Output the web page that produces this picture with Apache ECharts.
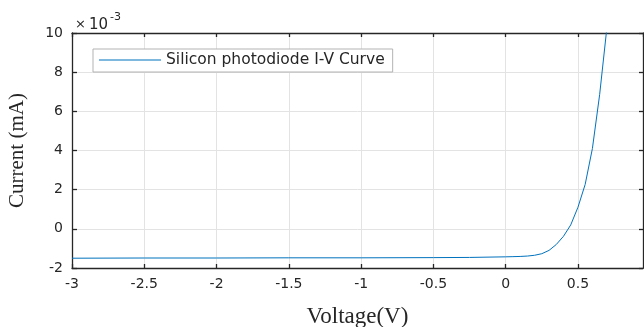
<!DOCTYPE html>
<html>
<head>
<meta charset="utf-8">
<script src="https://cdn.jsdelivr.net/npm/echarts@6/dist/echarts.min.js"></script>
<style>
html,body{margin:0;padding:0;background:#fff;}
#chart{width:644px;height:327px;}
</style>
</head>
<body>
<div id="chart"></div>
<script>
// Data (current in units of 1e-3 mA, as shown on the axis)
var voltage = [-3, -2.5, -2, -1.5, -1, -0.5, -0.25, 0, 0.05, 0.1, 0.15, 0.2, 0.25, 0.3, 0.35, 0.4, 0.45, 0.5, 0.55, 0.6, 0.65, 0.7];
var current = [-1.50, -1.49, -1.49, -1.48, -1.48, -1.47, -1.46, -1.43, -1.42, -1.41, -1.39, -1.35, -1.27, -1.10, -0.80, -0.38, 0.20, 1.10, 2.27, 4.10, 6.85, 10.25];
var seriesName = 'Silicon photodiode I-V Curve';
var xTitle = 'Voltage(V)';
var yTitle = 'Current (mA)';
var xMin = -3, xMax = 0.95, xStep = 0.5;
var yMin = -2, yMax = 10, yStep = 2;

var pts = voltage.map(function (v, i) { return [v, current[i]]; });
var chart = echarts.init(document.getElementById('chart'), null, {renderer: 'canvas'});
var axisColor = '#262626';
var gridColor = '#e3e3e3';
var tickFont = 'DejaVu Sans';
function xFmt(v) {
  if (Math.abs(v / xStep - Math.round(v / xStep)) > 1e-6) return '';
  return String(Math.round(v * 100) / 100);
}
chart.setOption({
  backgroundColor: '#ffffff',
  animation: false,
  grid: {left: 72, right: 1, top: 33, bottom: 59, containLabel: false, outerBoundsMode: 'none'},
  legend: {
    left: 93, top: 49,
    data: [{name: seriesName, icon: 'rect'}],
    itemWidth: 62, itemHeight: 1, itemGap: 5,
    padding: [3, 8, 4, 6],
    backgroundColor: '#ffffff',
    borderColor: '#b3b3b3', borderWidth: 1, borderRadius: 0,
    textStyle: {fontFamily: tickFont, fontSize: 15.5, color: '#262626'}
  },
  xAxis: [{
    type: 'value', position: 'bottom', min: xMin, max: xMax, interval: xStep,
    name: xTitle, nameLocation: 'middle', nameGap: 37,
    nameTextStyle: {fontFamily: 'Liberation Serif', fontSize: 23, color: '#262626'},
    axisLine: {show: true, onZero: false, lineStyle: {color: axisColor, width: 1.3}},
    axisTick: {show: true, inside: true, length: 4, lineStyle: {color: axisColor, width: 1.3}},
    axisLabel: {formatter: xFmt, fontFamily: tickFont, fontSize: 14, color: '#262626', margin: 9, showMaxLabel: false},
    splitLine: {show: true, lineStyle: {color: gridColor, width: 1}}
  }, {
    type: 'value', position: 'top', min: xMin, max: xMax, interval: xStep,
    axisLine: {show: true, onZero: false, lineStyle: {color: axisColor, width: 1.3}},
    axisTick: {show: true, inside: true, length: 4, lineStyle: {color: axisColor, width: 1.3}},
    axisLabel: {show: false},
    splitLine: {show: false}
  }],
  yAxis: [{
    type: 'value', position: 'left', min: yMin, max: yMax, interval: yStep,
    name: yTitle, nameLocation: 'middle', nameGap: 44, nameRotate: 90,
    nameTextStyle: {fontFamily: 'Liberation Serif', fontSize: 21, color: '#262626'},
    axisLine: {show: true, onZero: false, lineStyle: {color: axisColor, width: 1.3}},
    axisTick: {show: true, inside: true, length: 5, lineStyle: {color: axisColor, width: 1.3}},
    axisLabel: {fontFamily: tickFont, fontSize: 14, color: '#262626', margin: 9},
    splitLine: {show: true, lineStyle: {color: gridColor, width: 1}}
  }, {
    type: 'value', position: 'right', min: yMin, max: yMax, interval: yStep,
    axisLine: {show: true, onZero: false, lineStyle: {color: axisColor, width: 1.3}},
    axisTick: {show: true, inside: true, length: 4, lineStyle: {color: axisColor, width: 1.3}},
    axisLabel: {show: false},
    splitLine: {show: false}
  }],
  graphic: [
    {type: 'text', left: 75, top: 18, style: {text: '×', fontFamily: tickFont, fontSize: 13, fill: '#262626'}},
    {type: 'text', left: 89, top: 18, style: {text: '10', fontFamily: tickFont, fontSize: 15, fill: '#262626'}},
    {type: 'text', left: 110, top: 12, style: {text: '-3', fontFamily: tickFont, fontSize: 11, fill: '#262626'}}
  ],
  series: [{
    name: seriesName, type: 'line', data: pts, symbol: 'none', showSymbol: false,
    clip: true, smooth: false,
    lineStyle: {color: '#0072BD', width: 1},
    itemStyle: {color: '#0072BD'}
  }]
});
</script>
</body>
</html>
